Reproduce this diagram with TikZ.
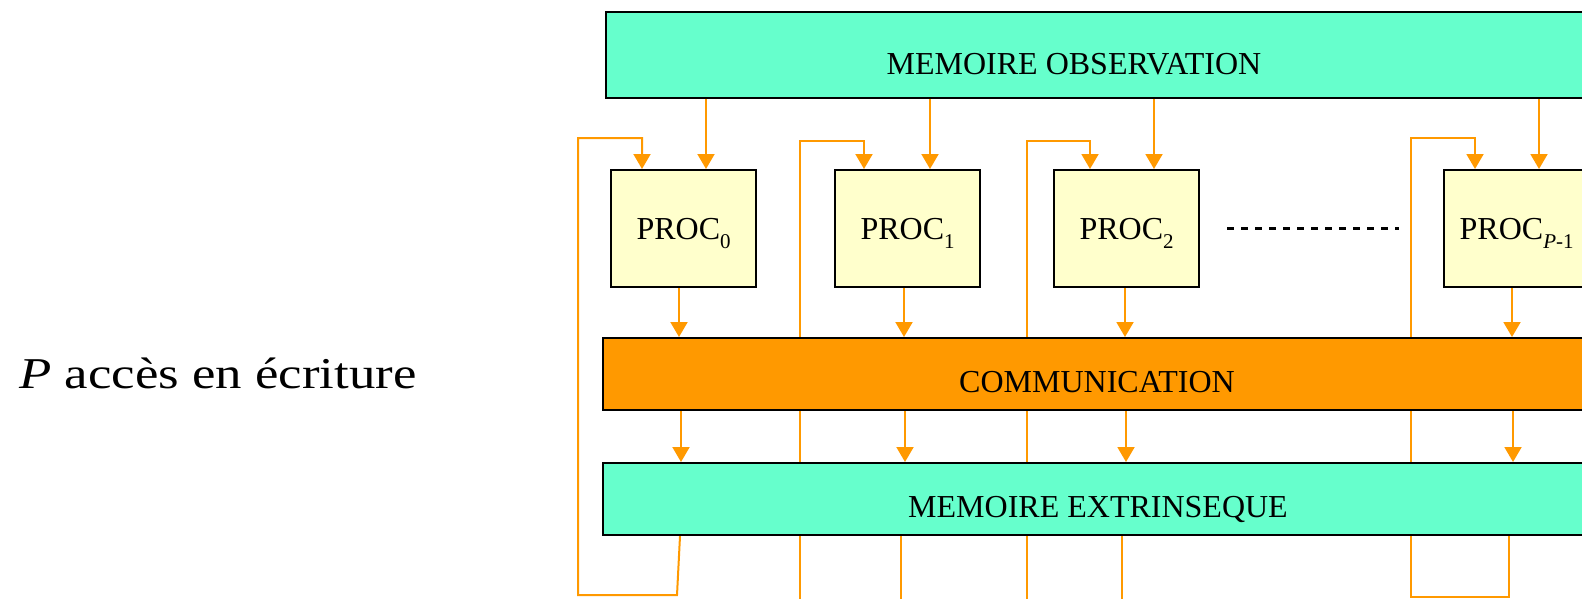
\documentclass[tikz,border=0pt]{standalone}
\usepackage{fontspec}
\setmainfont{Liberation Serif}
\newfontfamily\widefont[FakeStretch=1.2]{Liberation Serif}
\usepackage{tikz}
\usetikzlibrary{arrows.meta}
\usetikzlibrary{backgrounds}

\definecolor{turquoise}{HTML}{66FFCC}
\definecolor{comorange}{HTML}{FF9900}
\definecolor{procyellow}{HTML}{FFFFCC}

\newcommand{\procidx}[1]{\raisebox{-0.28em}{\fontsize{21}{21}\selectfont #1}}

\tikzset{
  membox/.style={rectangle, draw=black, line width=2.2pt, fill=turquoise, inner sep=0pt, anchor=north west},
  combox/.style={membox, fill=comorange},
  procbox/.style={rectangle, draw=black, line width=2.2pt, fill=procyellow, inner sep=0pt,
    minimum width=145pt, minimum height=117pt, anchor=north west,
    font=\fontsize{32}{38}\selectfont, text height=22pt, text depth=0pt},
  boxtext/.style={font=\fontsize{32}{38}\selectfont, inner sep=0pt, anchor=base},
  flow/.style={comorange, line width=2pt, -{Triangle[width=17pt,length=15pt]}},
  link/.style={comorange, line width=2pt},
}

\begin{document}
\begin{tikzpicture}[x=1pt,y=-1pt]
            \useasboundingbox (0,0) rectangle (1582,598);

            % Draw the memory and communication banks
            \node[membox, minimum width=1020pt, minimum height=86pt] (obs) at (605,11) {};
            \node[combox, minimum width=1020pt, minimum height=72pt] (com) at (602,337) {};
            \node[membox, minimum width=1020pt, minimum height=72pt] (ext) at (602,462) {};
            \node[boxtext] (obslabel) at (1074,74) {MEMOIRE OBSERVATION};
            \node[boxtext] (comlabel) at (1097,392) {COMMUNICATION};
            \node[boxtext] (extlabel) at (1098,517) {MEMOIRE EXTRINSEQUE};

            % Draw the processors
            \node[procbox] (p0) at (610,169) {PROC\procidx{0}};
            \node[procbox] (p1) at (834,169) {PROC\procidx{1}};
            \node[procbox] (p2) at (1053,169) {PROC\procidx{2}};
            \node[procbox] (pp) at (1443,169) {PROC\procidx{\textit{P}-1}};

            \draw[line width=2.5pt, dash pattern=on 7pt off 7pt] ([xshift=27]p2.east) -- ([xshift=-44]pp.west);

            % Write access text
            \node[inner sep=0pt, anchor=base, font=\widefont\fontsize{44}{52}\selectfont] (access) at (218,388) {\textit{P} accès en écriture};

            % Draw observation links
            \draw[flow] (obs.south -| 706,0) -- (p0.north -| 706,0);
            \draw[flow] (obs.south -| 930,0) -- (p1.north -| 930,0);
            \draw[flow] (obs.south -| 1154,0) -- (p2.north -| 1154,0);
            \draw[flow] (obs.south -| 1539,0) -- (pp.north -| 1539,0);

            % Draw write links
            \draw[flow] (p0.south -| 679,0) -- (com.north -| 679,0);
            \draw[flow] (p1.south -| 904,0) -- (com.north -| 904,0);
            \draw[flow] (p2.south -| 1125,0) -- (com.north -| 1125,0);
            \draw[flow] (pp.south -| 1512,0) -- (com.north -| 1512,0);
            \draw[flow] (com.south -| 681,0) -- (ext.north -| 681,0);
            \draw[flow] (com.south -| 905,0) -- (ext.north -| 905,0);
            \draw[flow] (com.south -| 1126,0) -- (ext.north -| 1126,0);
            \draw[flow] (com.south -| 1513,0) -- (ext.north -| 1513,0);

            % Draw feedback loops
            \begin{scope}[on background layer]
            \draw[flow] (ext.south -| 680,0) -- (677,595) -- (578,595) -- (578,138) -- (642,138) -- (p0.north -| 642,0);
            \draw[flow] (800,600) -- (800,141) -- (864,141) -- (p1.north -| 864,0);
            \draw[flow] (1027,600) -- (1027,141) -- (1090,141) -- (p2.north -| 1090,0);
            \draw[flow] (ext.south -| 1509,0) -- (1509,597) -- (1411,597) -- (1411,138) -- (1475,138) -- (pp.north -| 1475,0);
            \draw[link] (ext.south -| 901,0) -- (901,600);
            \draw[link] (ext.south -| 1122,0) -- (1122,600);
            \end{scope}

\end{tikzpicture}
\end{document}
